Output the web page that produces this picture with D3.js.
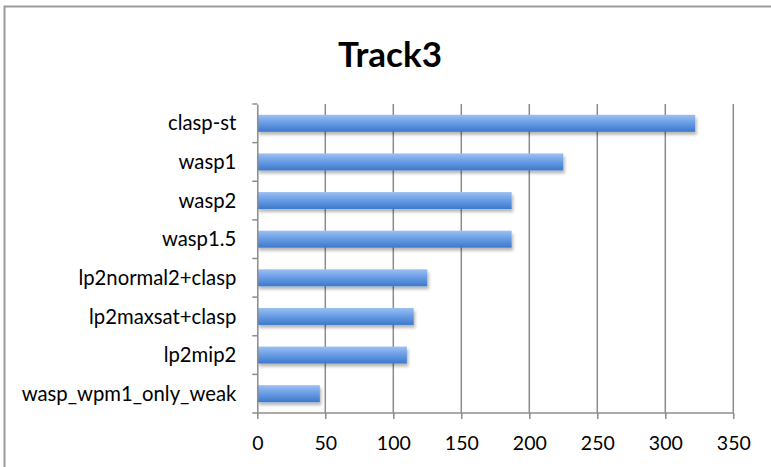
<!DOCTYPE html>
<html>
<head>
<meta charset="utf-8">
<script src="https://cdn.jsdelivr.net/npm/d3@7"></script>
<style>
  html, body { margin: 0; padding: 0; background: #fff; }
  svg { display: block; }
  text { font-family: Lato, "Open Sans", sans-serif; fill: #000; }
</style>
</head>
<body>
<svg id="chart" width="771" height="467"></svg>
<script>
// Solver scores, top to bottom
const categories = ["clasp-st", "wasp1", "wasp2", "wasp1.5", "lp2normal2+clasp", "lp2maxsat+clasp", "lp2mip2", "wasp_wpm1_only_weak"];
const values = [322, 225, 187, 187, 125, 115, 110, 46];
const xTicks = [0, 50, 100, 150, 200, 250, 300, 350];
const title = "Track3";

const svg = d3.select("#chart");
const W = 771, H = 467;
const plot = { left: 257.3, right: 733.3, top: 104, bottom: 413 };

// Chart frame (left and top edges)
svg.append("path")
  .attr("d", `M4.5,${H} V6.5 H${W}`)
  .attr("fill", "none")
  .attr("stroke", "#9a9a9a")
  .attr("stroke-width", 2);

const x = d3.scaleLinear().domain([0, 350]).range([plot.left, plot.right]);
const y = d3.scaleBand().domain(categories).range([plot.top, plot.bottom]).paddingInner(0.56).paddingOuter(0.28);

// Bar gradient and drop shadow
const defs = svg.append("defs");
const grad = defs.append("linearGradient").attr("id", "barGrad")
  .attr("x1", 0).attr("y1", 0).attr("x2", 0).attr("y2", 1);
grad.append("stop").attr("offset", "0%").attr("stop-color", "#9cc0f2");
grad.append("stop").attr("offset", "45%").attr("stop-color", "#6b9fe6");
grad.append("stop").attr("offset", "100%").attr("stop-color", "#3c78cc");
const shadow = defs.append("filter").attr("id", "barShadow")
  .attr("x", "-5%").attr("y", "-30%").attr("width", "115%").attr("height", "190%");
shadow.append("feDropShadow").attr("dx", 1.5).attr("dy", 3).attr("stdDeviation", 1.8)
  .attr("flood-color", "#000").attr("flood-opacity", 0.28);

// Vertical gridlines
svg.append("g")
  .selectAll("line")
  .data(xTicks.filter(d => d > 0))
  .join("line")
  .attr("x1", d => x(d)).attr("x2", d => x(d))
  .attr("y1", plot.top).attr("y2", plot.bottom)
  .attr("stroke", "#8c8c8c")
  .attr("stroke-width", 1.5);

// Bars
svg.append("g")
  .selectAll("rect")
  .data(categories)
  .join("rect")
  .attr("x", x(0))
  .attr("y", (d) => y(d))
  .attr("width", (d, i) => x(values[i]) - x(0))
  .attr("height", y.bandwidth())
  .attr("fill", "url(#barGrad)")
  .attr("filter", "url(#barShadow)");

// Category axis
const yAxisScale = d3.scaleBand().domain(categories).range([plot.top, plot.bottom]);
const yAxis = svg.append("g")
  .attr("transform", `translate(${plot.left},0)`)
  .call(d3.axisLeft(yAxisScale).tickSize(0).tickPadding(21));
yAxis.select(".domain").attr("stroke", "#8c8c8c").attr("stroke-width", 1.5);
yAxis.selectAll("text").attr("font-size", 20.3).attr("dy", "0.35em");
// tick marks sit at band boundaries
svg.append("g")
  .selectAll("line")
  .data(d3.range(categories.length + 1))
  .join("line")
  .attr("x1", plot.left - 5).attr("x2", plot.left)
  .attr("y1", i => plot.top + i * yAxisScale.step())
  .attr("y2", i => plot.top + i * yAxisScale.step())
  .attr("stroke", "#8c8c8c").attr("stroke-width", 1.5);

// Value axis
const xAxis = svg.append("g")
  .attr("transform", `translate(0,${plot.bottom})`)
  .call(d3.axisBottom(x).tickValues(xTicks).tickSize(6).tickPadding(17).tickFormat(d3.format("d")));
xAxis.select(".domain").attr("stroke", "#8c8c8c").attr("stroke-width", 1.5)
  .attr("d", `M${plot.left},0H${plot.right}`);
xAxis.selectAll(".tick line").attr("stroke", "#8c8c8c").attr("stroke-width", 1.5);
xAxis.selectAll("text").attr("font-size", 19.5).attr("fill", "#000");

// Title
svg.append("text")
  .attr("x", 390).attr("y", 67)
  .attr("text-anchor", "middle")
  .attr("font-size", 35)
  .attr("font-weight", "bold")
  .text(title);
</script>
</body>
</html>
